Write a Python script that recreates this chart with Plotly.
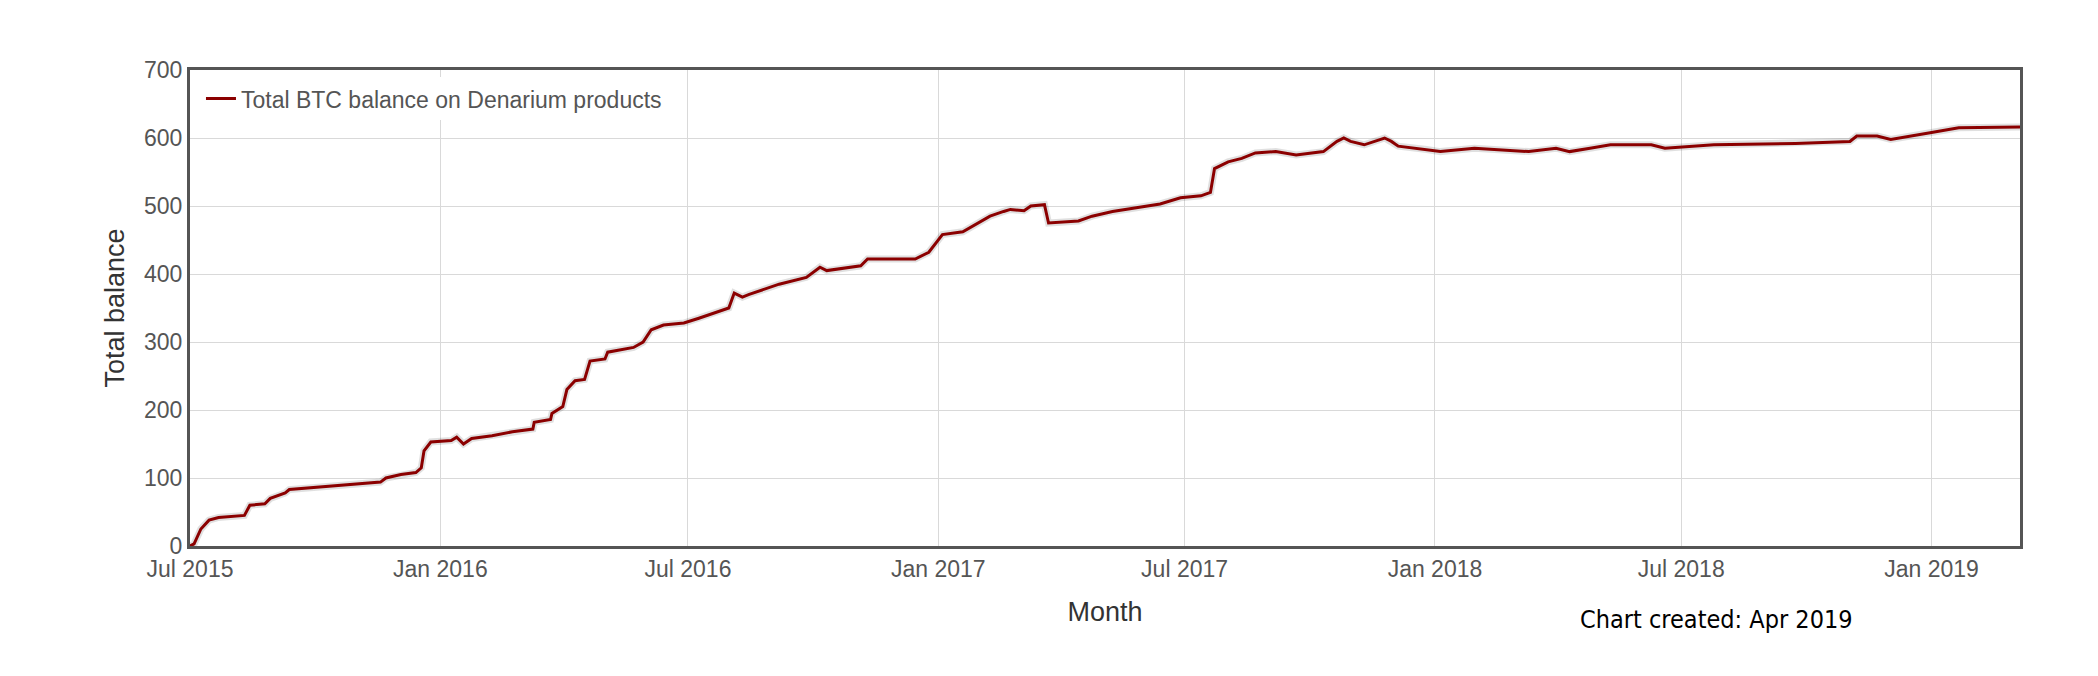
import plotly.graph_objects as go

# Total BTC balance readings (approximate)
dates = [
    "2015-07-01", "2015-07-04", "2015-07-09", "2015-07-15", "2015-07-22", "2015-08-10",
    "2015-08-14", "2015-08-25", "2015-08-29", "2015-09-09", "2015-09-12", "2015-10-01",
    "2015-10-23", "2015-11-18", "2015-11-22", "2015-12-03", "2015-12-14", "2015-12-18",
    "2015-12-20", "2015-12-25", "2016-01-09", "2016-01-13", "2016-01-18", "2016-01-24",
    "2016-02-08", "2016-02-23", "2016-03-09", "2016-03-10", "2016-03-22", "2016-03-23",
    "2016-03-31", "2016-04-03", "2016-04-09", "2016-04-16", "2016-04-20", "2016-05-01",
    "2016-05-03", "2016-05-22", "2016-05-29", "2016-06-04", "2016-06-13", "2016-06-28",
    "2016-07-09", "2016-07-20", "2016-07-31", "2016-08-04", "2016-08-10", "2016-08-15",
    "2016-09-06", "2016-09-26", "2016-10-06", "2016-10-11", "2016-11-05", "2016-11-10",
    "2016-12-15", "2016-12-25", "2017-01-04", "2017-01-19", "2017-02-08", "2017-02-18",
    "2017-02-23", "2017-03-05", "2017-03-10", "2017-03-20", "2017-03-23", "2017-04-14",
    "2017-04-24", "2017-05-09", "2017-05-24", "2017-06-13", "2017-06-28", "2017-07-13",
    "2017-07-20", "2017-07-23", "2017-08-02", "2017-08-12", "2017-08-22", "2017-09-06",
    "2017-09-21", "2017-10-11", "2017-10-21", "2017-10-26", "2017-10-31", "2017-11-10",
    "2017-11-25", "2017-11-30", "2017-12-05", "2017-12-26", "2018-01-05", "2018-01-30",
    "2018-02-19", "2018-03-11", "2018-03-31", "2018-04-10", "2018-04-25", "2018-05-10",
    "2018-06-09", "2018-06-19", "2018-07-25", "2018-09-23", "2018-11-02", "2018-11-07",
    "2018-11-22", "2018-12-02", "2019-01-01", "2019-01-21", "2019-03-07",
]
balance = [
    0, 3, 25, 38, 42, 45,
    60, 62, 70, 78, 83, 86,
    90, 94, 100, 105, 108, 115,
    140, 153, 155, 160, 150, 158,
    162, 168, 172, 182, 186, 195,
    205, 230, 243, 245, 272, 275,
    285, 292, 300, 318, 325, 328,
    335, 342, 350, 372, 366, 370,
    385, 395, 410, 405, 412, 422,
    422, 432, 458, 462, 485, 492,
    495, 493, 500, 502, 475, 478,
    485, 492, 497, 503, 512, 515,
    520, 555, 565, 570, 578, 580,
    575, 580, 595, 600, 595, 590,
    600, 595, 588, 583, 580, 585,
    582, 580, 585, 580, 585, 590,
    590, 585, 590, 592, 595, 603,
    603, 598, 608, 615, 616,
]

font = "Liberation Sans, Arial, sans-serif"

fig = go.Figure()
# soft shadow under the line
fig.add_trace(go.Scatter(
    x=dates, y=balance, mode="lines", line=dict(color="rgba(0,0,0,0.12)", width=7),
    showlegend=False, hoverinfo="skip"
))
fig.add_trace(go.Scatter(
    x=dates, y=balance, mode="lines", name="Total BTC balance on Denarium products",
    line=dict(color="#8b0000", width=3)
))

fig.update_layout(
    width=2098, height=676,
    margin=dict(l=182, r=86, t=62, b=138),
    plot_bgcolor="white", paper_bgcolor="white",
    font=dict(family=font, size=23, color="#555555"),
    legend=dict(x=0.006, y=0.985, xanchor="left", yanchor="top", bgcolor="white",
                bordercolor="white", font=dict(size=23, color="#555555")),
    xaxis=dict(
        range=["2015-07-01", "2019-03-07"], type="date",
        tickvals=["2015-07-01", "2016-01-01", "2016-07-01", "2017-01-01",
                  "2017-07-01", "2018-01-01", "2018-07-01", "2019-01-01"],
        tickformat="%b %Y", showgrid=True, gridcolor="#d9d9d9", gridwidth=1,
        showline=True, linecolor="#555555", linewidth=3, mirror=True, ticks="",
        title=dict(text="Month", font=dict(size=27, color="#333333"), standoff=22),
    ),
    yaxis=dict(
        range=[0, 700], dtick=100, showgrid=True, gridcolor="#d9d9d9", gridwidth=1,
        showline=True, linecolor="#555555", linewidth=3, mirror=True, zeroline=False,
        title=dict(text="Total balance", font=dict(size=27, color="#333333"), standoff=12),
    ),
)

fig.add_annotation(
    text="Chart created: Apr 2019", xref="paper", yref="paper", x=0.91, y=-0.12,
    xanchor="right", yanchor="top", showarrow=False,
    font=dict(family="DejaVu Sans Condensed, DejaVu Sans", size=25, color="black"),
)

fig.write_html("out.html")
